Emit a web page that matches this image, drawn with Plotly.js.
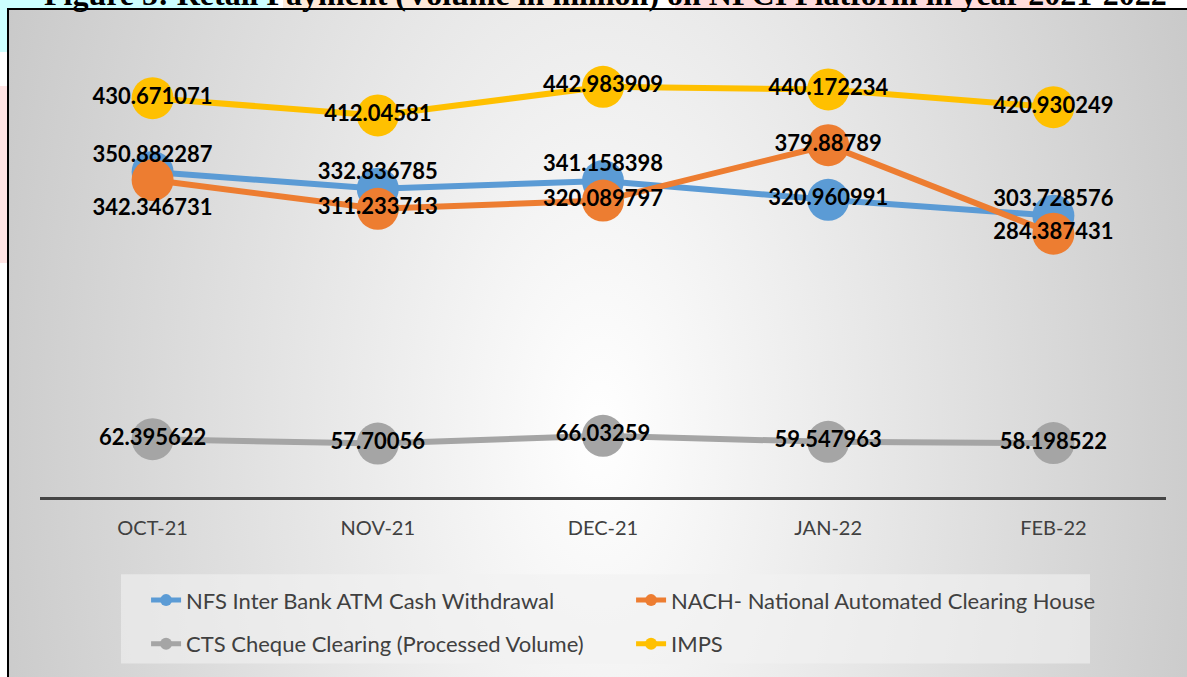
<!DOCTYPE html>
<html>
<head>
<meta charset="utf-8">
<script src="https://cdn.plot.ly/plotly-3.0.1.min.js"></script>
<style>
  body { margin: 0; background: #ffffff; overflow: hidden; }
  .hl { position: absolute; }
  #frame {
    position: absolute; left: 7px; top: 8px; width: 1200px; height: 700px;
    border: 2px solid #000000; box-sizing: border-box;
    background: radial-gradient(ellipse 800px 1500px at 590px 420px, #ffffff 0%, #bbbbbb 100%);
  }
  #chart { position: absolute; left: 0; top: 0; width: 1187px; height: 677px; }
</style>
</head>
<body>
<div class="hl" style="left:0;top:0;width:270px;height:52px;background:#ccffff"></div>
<div class="hl" style="left:283px;top:0;width:347px;height:8px;background:#fde9d9"></div>
<div class="hl" style="left:675px;top:0;width:385px;height:8px;background:#ffdcdc"></div>
<div class="hl" style="left:0;top:86px;width:7px;height:177px;background:#ffe4e4"></div>
<div id="frame"></div>
<div id="chart"></div>
<script>
var months = ['OCT-21', 'NOV-21', 'DEC-21', 'JAN-22', 'FEB-22'];
var nfs = [350.882287, 332.836785, 341.158398, 320.960991, 303.728576];
var nach = [342.346731, 311.233713, 320.089797, 379.88789, 284.387431];
var cts = [62.395622, 57.70056, 66.03259, 59.547963, 58.198522];
var imps = [430.671071, 412.04581, 442.983909, 440.172234, 420.930249];

var names = ['NFS Inter Bank ATM Cash Withdrawal', 'NACH- National Automated Clearing House',
             'CTS Cheque Clearing (Processed Volume)', 'IMPS'];
var series = [nfs, nach, cts, imps];
var colors = ['#5b9bd5', '#ed7d31', '#a5a5a5', '#ffc000'];
var legends = ['legend', 'legend', 'legend2', 'legend2'];
// where each data label sits against its marker
var labelPos = [
  ['top center', 'top center', 'top center', 'middle center', 'top center'],
  ['bottom center', 'middle center', 'middle center', 'middle center', 'middle center'],
  ['middle center', 'middle center', 'middle center', 'middle center', 'middle center'],
  ['middle center', 'middle center', 'middle center', 'middle center', 'middle center']
];
// plotly pushes labels away by the marker radius, so the hidden label markers
// are sized to get the small gap excel uses
function gapSize(p) {
  if (p.indexOf('top') === 0) return 6;
  if (p.indexOf('bottom') === 0) return 28;
  return 42;
}

var data = [];
for (var i = 0; i < series.length; i++) {
  data.push({
    x: months, y: series[i], name: names[i], legend: legends[i],
    type: 'scatter', mode: 'lines+markers',
    line: {color: colors[i], width: 6},
    marker: {color: colors[i], size: 42},
    hoverinfo: 'y+name'
  });
}
// labels go on top of every marker, so they are separate traces drawn last
for (var i = 0; i < series.length; i++) {
  data.push({
    x: months, y: series[i], showlegend: false,
    type: 'scatter', mode: 'markers+text',
    marker: {color: 'rgba(0,0,0,0)', size: labelPos[i].map(gapSize), line: {width: 0}},
    text: series[i].map(String),
    textposition: labelPos[i],
    textfont: {family: 'Lato', size: 22, weight: 'bold', color: '#000000'},
    hoverinfo: 'skip'
  });
}

var legendStyle = function (y) {
  return {
    orientation: 'h', x: 0.0942, xanchor: 'left', y: y, yanchor: 'top',
    bgcolor: 'rgba(0,0,0,0)', entrywidth: 440, entrywidthmode: 'pixels',
    itemsizing: 'constant',
    font: {family: 'Lato', size: 22, color: '#404040'}
  };
};

var layout = {
  width: 1187, height: 677,
  margin: {l: 40, r: 21, t: 34, b: 176},
  paper_bgcolor: 'rgba(0,0,0,0)',
  plot_bgcolor: 'rgba(0,0,0,0)',
  showlegend: true,
  xaxis: {
    type: 'category', range: [-0.5, 4.5], fixedrange: true,
    showline: true, linecolor: '#454545', linewidth: 3,
    showgrid: false, zeroline: false, ticks: '',
    ticklabelstandoff: 11,
    tickfont: {family: 'Lato', size: 20, color: '#404040'}
  },
  yaxis: {
    range: [0, 500], fixedrange: true,
    showline: false, showgrid: false, zeroline: false, showticklabels: false
  },
  legend: legendStyle(-0.1778),
  legend2: legendStyle(-0.2718),
  shapes: [{
    type: 'rect', xref: 'paper', yref: 'paper', layer: 'below',
    x0: (121 - 40) / 1126, x1: (1090 - 40) / 1126,
    y0: -(579 - 501) / 467, y1: -(669 - 501) / 467,
    fillcolor: 'rgba(242,242,242,0.6)', line: {width: 0}
  }],
  annotations: [{
    text: 'Figure 5: Retail Payment (Volume in million) on NPCI Platform in year 2021-2022',
    xref: 'paper', yref: 'paper', x: 0.502, y: 1, xanchor: 'center', yanchor: 'bottom',
    yshift: 20, showarrow: false,
    font: {family: 'Liberation Serif', size: 32, weight: 'bold', color: '#000000'}
  }]
};

Plotly.newPlot('chart', data, layout, {displayModeBar: false, staticPlot: true});
</script>
</body>
</html>
